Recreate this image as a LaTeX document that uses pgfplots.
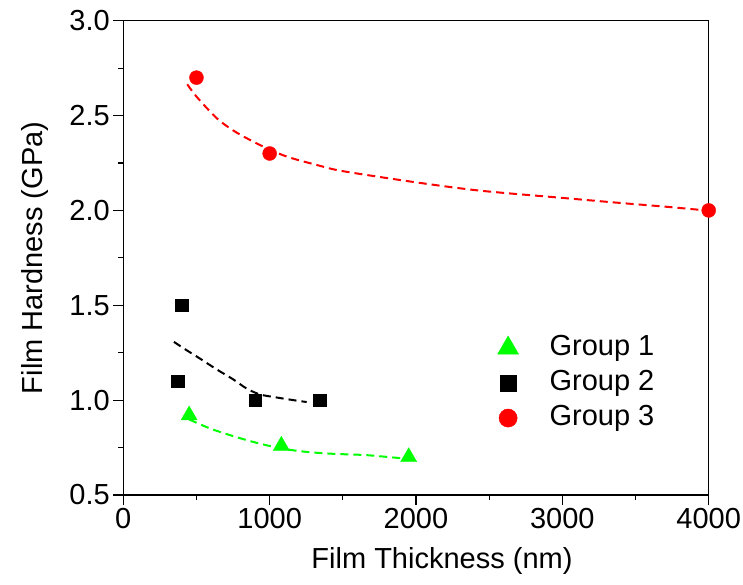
\documentclass[border=0pt]{standalone}
\usepackage{fontspec}
\setmainfont{Liberation Sans}
\usepackage{pgfplots}
\pgfplotsset{compat=1.18}
\definecolor{ored}{RGB}{255,0,0}
\definecolor{ogreen}{RGB}{0,255,0}
\newcommand{\bigf}{\fontsize{29}{34}\selectfont}
\begin{document}
\begin{tikzpicture}
\begin{axis}[
  name=ax,
  scale only axis,
  width=585.4pt, height=474.3pt,
  xmin=0, xmax=4000, ymin=0.5, ymax=3.0,
  xtick={0,1000,2000,3000,4000},
  ytick={0.5,1.0,1.5,2.0,2.5,3.0},
  minor tick num=1,
  xtick pos=bottom, ytick pos=left,
  tick align=outside,
  major tick length=10pt,
  minor tick length=5pt,
  axis line style={line width=1.3pt},
  every tick/.style={line width=1.1pt, black},
  /pgf/number format/assume math mode=true,
  x tick label style={font=\bigf, /pgf/number format/1000 sep={}},
  y tick label style={font=\bigf, /pgf/number format/fixed, /pgf/number format/fixed zerofill, /pgf/number format/precision=1},
  xlabel={Film Thickness (nm)},
  ylabel={Film Hardness (GPa)},
  label style={font=\bigf},
  xlabel style={xshift=26pt, yshift=-12pt},
  ylabel style={yshift=14pt},
  legend style={draw=none, fill=none, font=\bigf, at={(0.634,0.236)}, anchor=west,
    nodes={inner sep=0pt, text height=20pt, text depth=6pt},
    row sep=9pt,
    /tikz/every odd column/.append style={column sep=31pt}},
  legend cell align=left,
  legend image code/.code={\path (-10pt,0pt) (10pt,0pt); \draw[#1, mark options={scale=1.3}] plot coordinates {(0pt,0pt)};},
  clip=false,
]
% fitted curves
\addplot[forget plot, ored, line width=2pt, dash pattern=on 8pt off 5pt, smooth] coordinates {
(437,2.665) (500,2.60) (640,2.485) (775,2.41) (960,2.335) (1120,2.283) (1320,2.24) (1500,2.207)
(2000,2.148) (2440,2.104) (3000,2.066) (3370,2.041) (3700,2.02) (3980,2.0)};
\addplot[forget plot, black, line width=2pt, dash pattern=on 8pt off 5pt, smooth] coordinates {
(346,1.307) (433,1.263) (524,1.219) (638,1.162) (752,1.109) (843,1.061) (934,1.03) (1048,1.014) (1162,1.0) (1253,0.99)};
\addplot[forget plot, ogreen, line width=2pt, dash pattern=on 8pt off 5pt, smooth] coordinates {
(451,0.898) (592,0.851) (752,0.81) (911,0.775) (1082,0.745) (1253,0.727) (1435,0.717) (1663,0.71) (1948,0.69)};
% data
\addplot[only marks, mark=triangle*, mark size=9.3pt, color=ogreen] coordinates {(450,0.92) (1080,0.76) (1950,0.70)};
\addlegendentry{Group 1}
\addplot[only marks, mark=square*, mark size=6.3pt, color=black] coordinates {(370,1.10) (400,1.50) (900,1.00) (1340,1.00)};
\addlegendentry{Group 2}
\addplot[only marks, mark=*, mark size=7pt, color=ored] coordinates {(500,2.70) (1000,2.30) (4000,2.00)};
\addlegendentry{Group 3}
\end{axis}
\pgfresetboundingbox
\path (ax.south west) ++(-123.3pt,-90pt) rectangle ++(743pt,585pt);
\end{tikzpicture}
\end{document}
